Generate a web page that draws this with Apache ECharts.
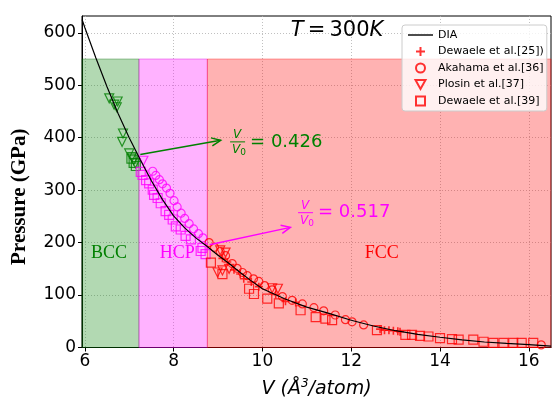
<!DOCTYPE html>
<html>
<head>
<meta charset="utf-8">
<script src="https://cdn.jsdelivr.net/npm/echarts@6/dist/echarts.min.js"></script>
<style>
  html, body { margin: 0; padding: 0; background: #fff; }
  #main { width: 554px; height: 404px; }
</style>
</head>
<body>
<div id="main"></div>
<script>
// axis ticks
const xTicks = [6, 8, 10, 12, 14, 16];
const yTicks = [0, 100, 200, 300, 400, 500, 600];

// phase boundaries (V), top of the shaded bands (GPa)
const phaseEdges = [5.937, 7.22, 8.76, 16.5];
const phaseTop = 550;

// DIA equation of state
const diaV = [5.94, 6.0, 6.25, 6.5, 6.75, 7.0, 7.25, 7.5, 7.75, 8.0, 8.25, 8.5, 8.75, 9.0, 9.25, 9.5, 9.75, 10.0, 10.5, 11.0, 11.5, 12.0, 12.5, 13.0, 13.5, 14.0, 14.5, 15.0, 15.5, 16.0, 16.5];
const diaP = [625, 610, 552, 497, 446, 400, 358, 318, 282, 251, 228, 209, 193, 176, 160, 143, 127, 112, 93, 77, 65, 52, 41, 32, 25, 19.5, 14.5, 10.5, 7.7, 5.5, 2.5];

// Dewaele et al.[25]
const dew25V = [9.10, 9.21, 9.36, 9.50, 9.58, 9.75, 9.92, 10.30, 10.52, 10.75, 12.65, 12.75, 12.85, 12.95, 13.05, 13.10];
const dew25P = [170, 163, 148, 140, 131, 125, 116, 101, 88, 86, 35, 33, 33, 32, 31, 30];

// Akahama et al.[36]
const akaV = [7.53, 7.60, 7.68, 7.75, 7.84, 7.92, 8.01, 8.08, 8.17, 8.25, 8.35, 8.45, 8.56, 8.66,
              8.80, 8.92, 9.05, 9.17, 9.32, 9.43, 9.55, 9.66, 9.80, 9.92, 10.05, 10.22, 10.45, 10.67, 10.90, 11.16, 11.38, 11.64, 11.87, 12.02, 12.28, 16.28];
const akaP = [336, 328, 320, 312, 304, 294, 280, 268, 256, 246, 236, 226, 217, 209,
              200, 191, 183, 175, 160, 151, 143, 137, 131, 126, 118, 110, 97, 90, 83, 76, 70, 62, 53, 49, 43, 5];

// Plosin et al.[37]
const plosV = [6.55, 6.66, 6.72, 6.74, 6.84, 6.86, 7.00, 7.06, 7.10, 7.14, 7.32, 8.99, 9.05, 9.10, 9.17, 9.25, 10.22, 10.35];
const plosP = [475, 463, 458, 469, 392, 408, 370, 363, 357, 351, 356, 143, 185, 147, 181, 150, 113, 112];

// Dewaele et al.[39]
const dew39V = [7.05, 7.10, 7.15,
                7.26, 7.30, 7.38, 7.45, 7.53, 7.56, 7.64, 7.71, 7.82, 7.90, 7.98, 8.05, 8.16, 8.27, 8.39, 8.61, 8.65, 8.72,
                8.84, 9.10, 9.70, 9.81, 10.11, 10.37, 10.86, 11.20, 11.42, 11.57, 12.58, 13.22, 13.37, 13.55, 13.74, 14.00, 14.27, 14.42, 14.75, 14.98, 15.20, 15.43, 15.65, 15.84, 16.10];
const dew39P = [360, 352, 346,
                335, 329, 319, 313, 301, 291, 285, 275, 260, 253, 244, 231, 225, 213, 206, 184, 190, 178,
                162, 140, 112, 102, 93, 84, 71, 58, 55, 52, 33, 24, 24, 22, 21, 18, 16, 15, 15, 11, 9, 9, 9, 9, 9];

const GREEN = '#008000', MAGENTA = '#ff00ff', RED = '#ff0000';
const SANS = 'DejaVu Sans', SERIF = 'Liberation Serif';

const PLUS = 'path://M5,0V10M0,5H10';
const TRI_DOWN = 'path://M0,0L10,0L5,9Z';
const SQUARE = 'path://M0,0H10V10H0Z';

function phaseColor(v) {
  return v < phaseEdges[1] ? GREEN : (v < phaseEdges[2] ? MAGENTA : RED);
}
function points(vs, ps) {
  return vs.map((v, i) => ({ value: [v, ps[i]], itemStyle: { borderColor: phaseColor(v) } }));
}
function markerSeries(name, symbol, size, vs, ps, bw) {
  return {
    name: name, type: 'scatter', symbol: symbol, symbolSize: size, z: 3,
    itemStyle: { color: 'rgba(0,0,0,0)', borderColor: RED, borderWidth: bw || 1.2 },
    data: points(vs, ps)
  };
}

const chart = echarts.init(document.getElementById('main'));

const option = {
  animation: false,
  grid: { left: 82, right: 3, top: 16, bottom: 53, show: true, borderColor: '#000', borderWidth: 1 },
  xAxis: {
    type: 'value', min: phaseEdges[0], max: phaseEdges[3],
    name: '{i|V (Å}{s|3}{i|/atom)}', nameLocation: 'middle', nameGap: 30,
    nameTextStyle: {
      rich: {
        i: { fontFamily: SANS, fontStyle: 'italic', fontSize: 19, color: '#000', lineHeight: 24 },
        s: { fontFamily: SANS, fontStyle: 'italic', fontSize: 12, color: '#000', verticalAlign: 'top', lineHeight: 14 }
      }
    },
    axisLine: { lineStyle: { color: '#000', width: 1 } },
    axisTick: { customValues: xTicks, length: 4, lineStyle: { color: '#000' } },
    axisLabel: { customValues: xTicks, fontFamily: SANS, fontSize: 17, color: '#000', margin: 6 },
    splitLine: { show: true, lineStyle: { color: '#b0b0b0', type: [1, 2], width: 0.8 } }
  },
  yAxis: {
    type: 'value', min: 0, max: 632,
    name: 'Pressure (GPa)', nameLocation: 'middle', nameGap: 52,
    nameTextStyle: { fontFamily: SERIF, fontWeight: 'bold', fontSize: 21, color: '#000', padding: [0, 30, 0, 0] },
    axisLine: { show: true, lineStyle: { color: '#000', width: 1 } },
    axisTick: { show: true, customValues: yTicks, length: 4, lineStyle: { color: '#000' } },
    axisLabel: { customValues: yTicks, fontFamily: SANS, fontSize: 17, color: '#000', margin: 6 },
    splitLine: { show: true, lineStyle: { color: '#b0b0b0', type: [1, 2], width: 0.8 } }
  },
  legend: {
    orient: 'vertical', left: 402, top: 25,
    padding: [4, 3, 4, 6], itemGap: 4.5, itemWidth: 25, itemHeight: 9,
    backgroundColor: 'rgba(255,255,255,0.8)', borderColor: '#cccccc', borderWidth: 1, borderRadius: 3,
    textStyle: { fontFamily: SANS, fontSize: 11, color: '#000', lineHeight: 12 },
    data: [
      { name: 'DIA', icon: 'path://M0,0H25V1.4H0Z' },
      { name: 'Dewaele et al.[25])', icon: PLUS },
      { name: 'Akahama et al.[36]', icon: 'circle' },
      { name: 'Plosin et al.[37]', icon: TRI_DOWN },
      { name: 'Dewaele et al.[39]', icon: SQUARE }
    ]
  },
  series: [
    {
      // phase bands
      name: 'phases', type: 'line', data: [], z: 1, silent: true,
      markArea: {
        silent: true,
        data: [
          [{ xAxis: phaseEdges[0], yAxis: 0, itemStyle: { color: 'rgba(0,128,0,0.3)', borderColor: 'rgba(0,100,0,0.35)', borderWidth: 1 } },
           { xAxis: phaseEdges[1], yAxis: phaseTop }],
          [{ xAxis: phaseEdges[1], yAxis: 0, itemStyle: { color: 'rgba(255,0,255,0.3)', borderColor: 'rgba(220,0,220,0.4)', borderWidth: 1 } },
           { xAxis: phaseEdges[2], yAxis: phaseTop }],
          [{ xAxis: phaseEdges[2], yAxis: 0, itemStyle: { color: 'rgba(255,0,0,0.3)', borderColor: 'rgba(255,0,0,0.35)', borderWidth: 1 } },
           { xAxis: phaseEdges[3], yAxis: phaseTop }]
        ]
      }
    },
    {
      name: 'DIA', type: 'line', symbol: 'none', z: 5,
      lineStyle: { color: '#000', width: 1.2 }, itemStyle: { color: '#000' },
      data: diaV.map((v, i) => [v, diaP[i]])
    },
    markerSeries('Dewaele et al.[25])', PLUS, 8, dew25V, dew25P, 1.6),
    markerSeries('Akahama et al.[36]', 'circle', 8, akaV, akaP),
    markerSeries('Plosin et al.[37]', TRI_DOWN, 9, plosV, plosP),
    markerSeries('Dewaele et al.[39]', SQUARE, 9, dew39V, dew39P)
  ]
};

chart.setOption(option);

function px(v, p) { return chart.convertToPixel({ gridIndex: 0 }, [v, p]); }

function arrow(a, b, color) {
  const [x1, y1] = px(a[0], a[1]);
  const [x2, y2] = px(b[0], b[1]);
  const ang = Math.atan2(y2 - y1, x2 - x1);
  const L = 10, spread = 0.42;
  const h1 = [x2 - L * Math.cos(ang - spread), y2 - L * Math.sin(ang - spread)];
  const h2 = [x2 - L * Math.cos(ang + spread), y2 - L * Math.sin(ang + spread)];
  return [
    { type: 'line', z: 10, shape: { x1: x1, y1: y1, x2: x2, y2: y2 }, style: { stroke: color, lineWidth: 1.5 } },
    { type: 'polyline', z: 10, shape: { points: [h1, [x2, y2], h2] }, style: { stroke: color, lineWidth: 1.5, fill: null } }
  ];
}

function ratioLabel(v, p, value, color) {
  const [x, y] = px(v, p);
  return [
    { type: 'text', z: 10, x: x + 8, y: y - 7, style: { text: 'V', fontFamily: SANS, fontStyle: 'italic', fontSize: 12, fill: color, align: 'center', verticalAlign: 'middle' } },
    { type: 'line', z: 10, shape: { x1: x + 1, y1: y, x2: x + 16, y2: y }, style: { stroke: color, lineWidth: 1 } },
    { type: 'text', z: 10, x: x + 7, y: y + 8, style: { text: 'V', fontFamily: SANS, fontStyle: 'italic', fontSize: 12, fill: color, align: 'center', verticalAlign: 'middle' } },
    { type: 'text', z: 10, x: x + 14, y: y + 11, style: { text: '0', fontFamily: SANS, fontSize: 9, fill: color, align: 'center', verticalAlign: 'middle' } },
    { type: 'text', z: 10, x: x + 21, y: y, style: { text: '= ' + value, fontFamily: SANS, fontSize: 18, fill: color, align: 'left', verticalAlign: 'middle' } }
  ];
}

function phaseLabel(v, p, text, color) {
  const [x, y] = px(v, p);
  return { type: 'text', z: 10, x: x, y: y, style: { text: text, fontFamily: SERIF, fontSize: 18, fill: color, align: 'center', verticalAlign: 'middle' } };
}

const [tx, ty] = px(11.68, 604);
const graphics = [].concat(
  arrow([7.25, 368], [9.06, 395], GREEN),
  arrow([8.81, 196], [10.63, 229], MAGENTA),
  ratioLabel(9.25, 392, '0.426', GREEN),
  ratioLabel(10.78, 257, '0.517', MAGENTA),
  [
    phaseLabel(6.545, 179, 'BCC', GREEN),
    phaseLabel(8.08, 179, 'HCP', MAGENTA),
    phaseLabel(12.69, 179, 'FCC', RED),
    {
      type: 'text', z: 10, x: tx, y: ty,
      style: {
        text: '{i|T}\u2009=\u2009300{i|K}', align: 'center', verticalAlign: 'middle',
        fontFamily: SANS, fontSize: 21, fill: '#000',
        rich: { i: { fontFamily: SANS, fontStyle: 'italic', fontSize: 21, fill: '#000' } }
      }
    }
  ]
);

chart.setOption({ graphic: graphics });
</script>
</body>
</html>
